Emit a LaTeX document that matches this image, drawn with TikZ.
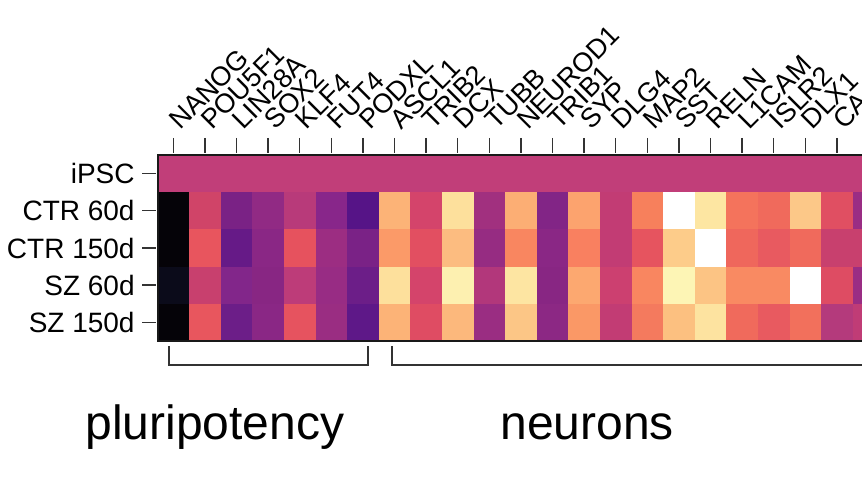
\documentclass[tikz,border=0pt]{standalone}
\usepackage{fontspec}
\setmainfont{Liberation Sans}
\usepackage{tikz}
\tikzset{
  genelabel/.style={
    rotate=45,
    anchor=base west,
    inner sep=0pt,
    font=\fontsize{13.5}{15}\selectfont},
  samplelabel/.style={
    anchor=east,
    inner sep=0pt,
    font=\fontsize{14}{16}\selectfont},
  grouplabel/.style={
    anchor=base west,
    inner sep=0pt,
    font=\fontsize{24}{28}\selectfont},
  axistick/.style={draw=black!80, line width=0.7pt},
  frame/.style={draw=black!90, line width=1pt},
  bracket/.style={draw=black!80, line width=0.7pt},
}
\definecolor{ipsc}{HTML}{C13E79}

\begin{document}
\begin{tikzpicture}[x=0.5pt, y=-0.5pt]
  \useasboundingbox (0,0) rectangle (862,485);
  \clip (0,0) rectangle (862,485);
  % heatmap cells, one column per gene, rows CTR 60d .. SZ 150d
  \fill[ipsc] (157.5,155) rectangle (900,192.2);
  \foreach \col [count=\k from 0] in {
      {050308,050308,0B0B1A,050308}, {D04468,E8555E,C8406E,E8565E},
      {7A2285,661A87,82268A,6C1E88}, {912A84,8A2785,882683,8A2785},
      {B83A7A,E6525E,BD3C79,E6535F}, {88268A,9C2D82,982C84,9A2D82},
      {561487,7A2286,6C1E88,5E1888}, {FCB377,FB9A68,FDE09C,FCB377},
      {D4446B,E24F61,D4446B,DF4C63}, {FDE09C,FCBC80,FDF0B0,FCB87C},
      {A1307F,962C82,B2377B,9A2D82}, {FCAE74,F98660,FDE5A2,FCC686},
      {822586,8A2785,882683,8C2884}, {FCA36E,F98060,FCA870,FA9866},
      {C23C74,C23C74,CC4070,C23C74}, {F7805C,E6545F,F98660,F47A5E},
      {FFFFFF,FDCC8A,FDF5B5,FCC080}, {FDE6A2,FFFFFF,FCC484,FDE3A0},
      {F4735C,EF675C,F98A62,F06A5C}, {F06A5C,E85A60,F98A62,E85A60},
      {FCC888,F06A5C,FFFFFF,F2705C}, {E04F62,C8406E,DE4C63,B43A7C},
      {9A2D84,C8406E,9A2D84,C03C76}}
    \foreach \hex [count=\r] in \col {
      \definecolor{cellcolor}{HTML}{\hex}
      \fill[cellcolor] ({157.5+31.6*\k},{155+37.2*\r}) rectangle ++(31.8,37.4);
    };
  \draw[frame] (900,155) -- (157.5,155) -- (157.5,341) -- (900,341);

  \foreach \g [count=\k from 0] in {NANOG,POU5F1,LIN28A,SOX2,KLF4,FUT4,PODXL,
      ASCL1,TRIB2,DCX,TUBB,NEUROD1,TRIB1,SYP,DLG4,MAP2,SST,RELN,L1CAM,ISLR2,DLX1,CA}{
    \node[genelabel] (Gene\k) at ({180.3+31.6*\k},131) {\g};
    \draw[axistick] ({173.3+31.6*\k},138) -- ++(0,15);
  }

  \foreach \s [count=\r from 0] in {iPSC,CTR 60d,CTR 150d,SZ 60d,SZ 150d}{
    \node[samplelabel] (Sample\r) at (135,{173.6+37.2*\r}) {\s};
    \draw[axistick] (142,{173.6+37.2*\r}) -- ++(14,0);
  }

  \coordinate (PluriL) at (169,346);
  \coordinate (PluriR) at (368,346);
  \coordinate (NeuronL) at (392,346);
  \coordinate (NeuronR) at (900,346);
  \draw[bracket] (PluriL) -- ++(0,19) -| (PluriR);
  \draw[bracket] (NeuronL) -- ++(0,19) -| (NeuronR);

  \node[grouplabel] (Pluripotency) at (85,440) {pluripotency};
  \node[grouplabel] (Neurons) at (500,440) {neurons};
\end{tikzpicture}
\end{document}
